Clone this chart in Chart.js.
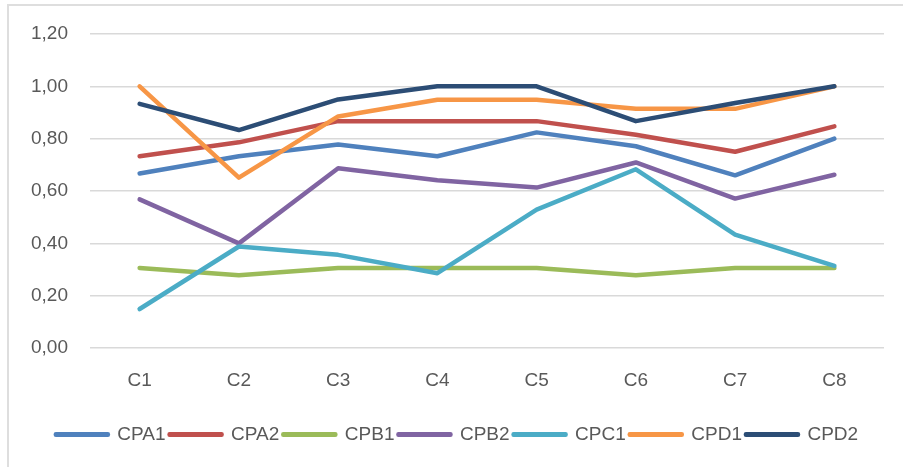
<!DOCTYPE html>
<html>
<head>
<meta charset="utf-8">
<script src="https://cdn.jsdelivr.net/npm/chart.js@4/dist/chart.umd.min.js"></script>
<style>
    html, body { margin: 0; padding: 0; background: #fff; overflow: hidden; }
    #frame {
        position: absolute; left: 7px; top: 4px; width: 1000px; height: 1000px;
        border-left: 2px solid #dedede; border-top: 2px solid #dedede;
    }
    #wrap { position: absolute; left: 0; top: 0; width: 903px; height: 467px; }
</style>
</head>
<body>
<div id="frame"></div>
<div id="wrap"><canvas id="lineChart"></canvas></div>
<script>
// categories and series
const categories = ['C1', 'C2', 'C3', 'C4', 'C5', 'C6', 'C7', 'C8'];
const seriesNames = ['CPA1', 'CPA2', 'CPB1', 'CPB2', 'CPC1', 'CPD1', 'CPD2'];
const seriesColors = ['#4f81bd', '#c0504d', '#9bbb59', '#8064a2', '#4bacc6', '#f79646', '#2c4d75'];

const cpa1 = [0.667, 0.733, 0.778, 0.733, 0.824, 0.771, 0.660, 0.800];
const cpa2 = [0.733, 0.786, 0.867, 0.867, 0.867, 0.815, 0.750, 0.847];
const cpb1 = [0.306, 0.278, 0.306, 0.306, 0.306, 0.278, 0.306, 0.306];
const cpb2 = [0.568, 0.400, 0.687, 0.641, 0.613, 0.709, 0.571, 0.662];
const cpc1 = [0.149, 0.388, 0.356, 0.286, 0.529, 0.683, 0.433, 0.314];
const cpd1 = [1.000, 0.651, 0.885, 0.949, 0.949, 0.914, 0.914, 1.000];
const cpd2 = [0.933, 0.833, 0.950, 1.000, 1.000, 0.867, 0.936, 1.000];

const yTicks = [0, 0.2, 0.4, 0.6, 0.8, 1.0, 1.2];

(function () {
    const canvas = document.getElementById('lineChart');
    if (!canvas || typeof Chart === 'undefined') return;

    const allSeries = [cpa1, cpa2, cpb1, cpb2, cpc1, cpd1, cpd2];
    const textColor = '#595959';
    const fontFamily = "'Liberation Sans', Arial, sans-serif";

    // later series sit on top, like the spreadsheet original
    const datasets = allSeries.map((values, i) => ({
        label: seriesNames[i],
        data: values,
        borderColor: seriesColors[i],
        backgroundColor: seriesColors[i],
        borderWidth: 4.5,
        borderCapStyle: 'round',
        borderJoinStyle: 'round',
        pointRadius: 0,
        tension: 0,
        order: allSeries.length - 1 - i
    }));

    new Chart(canvas.getContext('2d'), {
        type: 'line',
        data: { labels: categories, datasets: datasets },
        options: {
            responsive: true,
            maintainAspectRatio: false,
            animation: false,
            layout: { padding: { left: 30, right: 19, top: 34, bottom: 13 } },
            plugins: {
                legend: {
                    position: 'bottom',
                    labels: {
                        color: textColor,
                        font: { family: fontFamily, size: 19 },
                        boxWidth: 52,
                        boxHeight: 0.5,
                        padding: 4,
                        sort: (a, b) => a.datasetIndex - b.datasetIndex
                    }
                },
                title: { display: false },
                tooltip: { enabled: false }
            },
            scales: {
                x: {
                    offset: true,
                    grid: { display: false, drawTicks: false },
                    border: { display: false },
                    ticks: {
                        color: textColor,
                        font: { family: fontFamily, size: 19 },
                        padding: 21
                    },
                    afterFit: (scale) => { scale.height = 73; }
                },
                y: {
                    min: 0,
                    max: 1.2,
                    afterBuildTicks: (scale) => { scale.ticks = yTicks.map(v => ({ value: v })); },
                    grid: { color: '#d9d9d9', lineWidth: 1.5, drawTicks: false },
                    border: { display: false },
                    ticks: {
                        color: textColor,
                        font: { family: fontFamily, size: 19 },
                        padding: 22,
                        callback: (v) => Number(v).toFixed(2).replace('.', ',')
                    },
                    afterFit: (scale) => { scale.width = 60; }
                }
            }
        }
    });
})();
</script>
</body>
</html>
